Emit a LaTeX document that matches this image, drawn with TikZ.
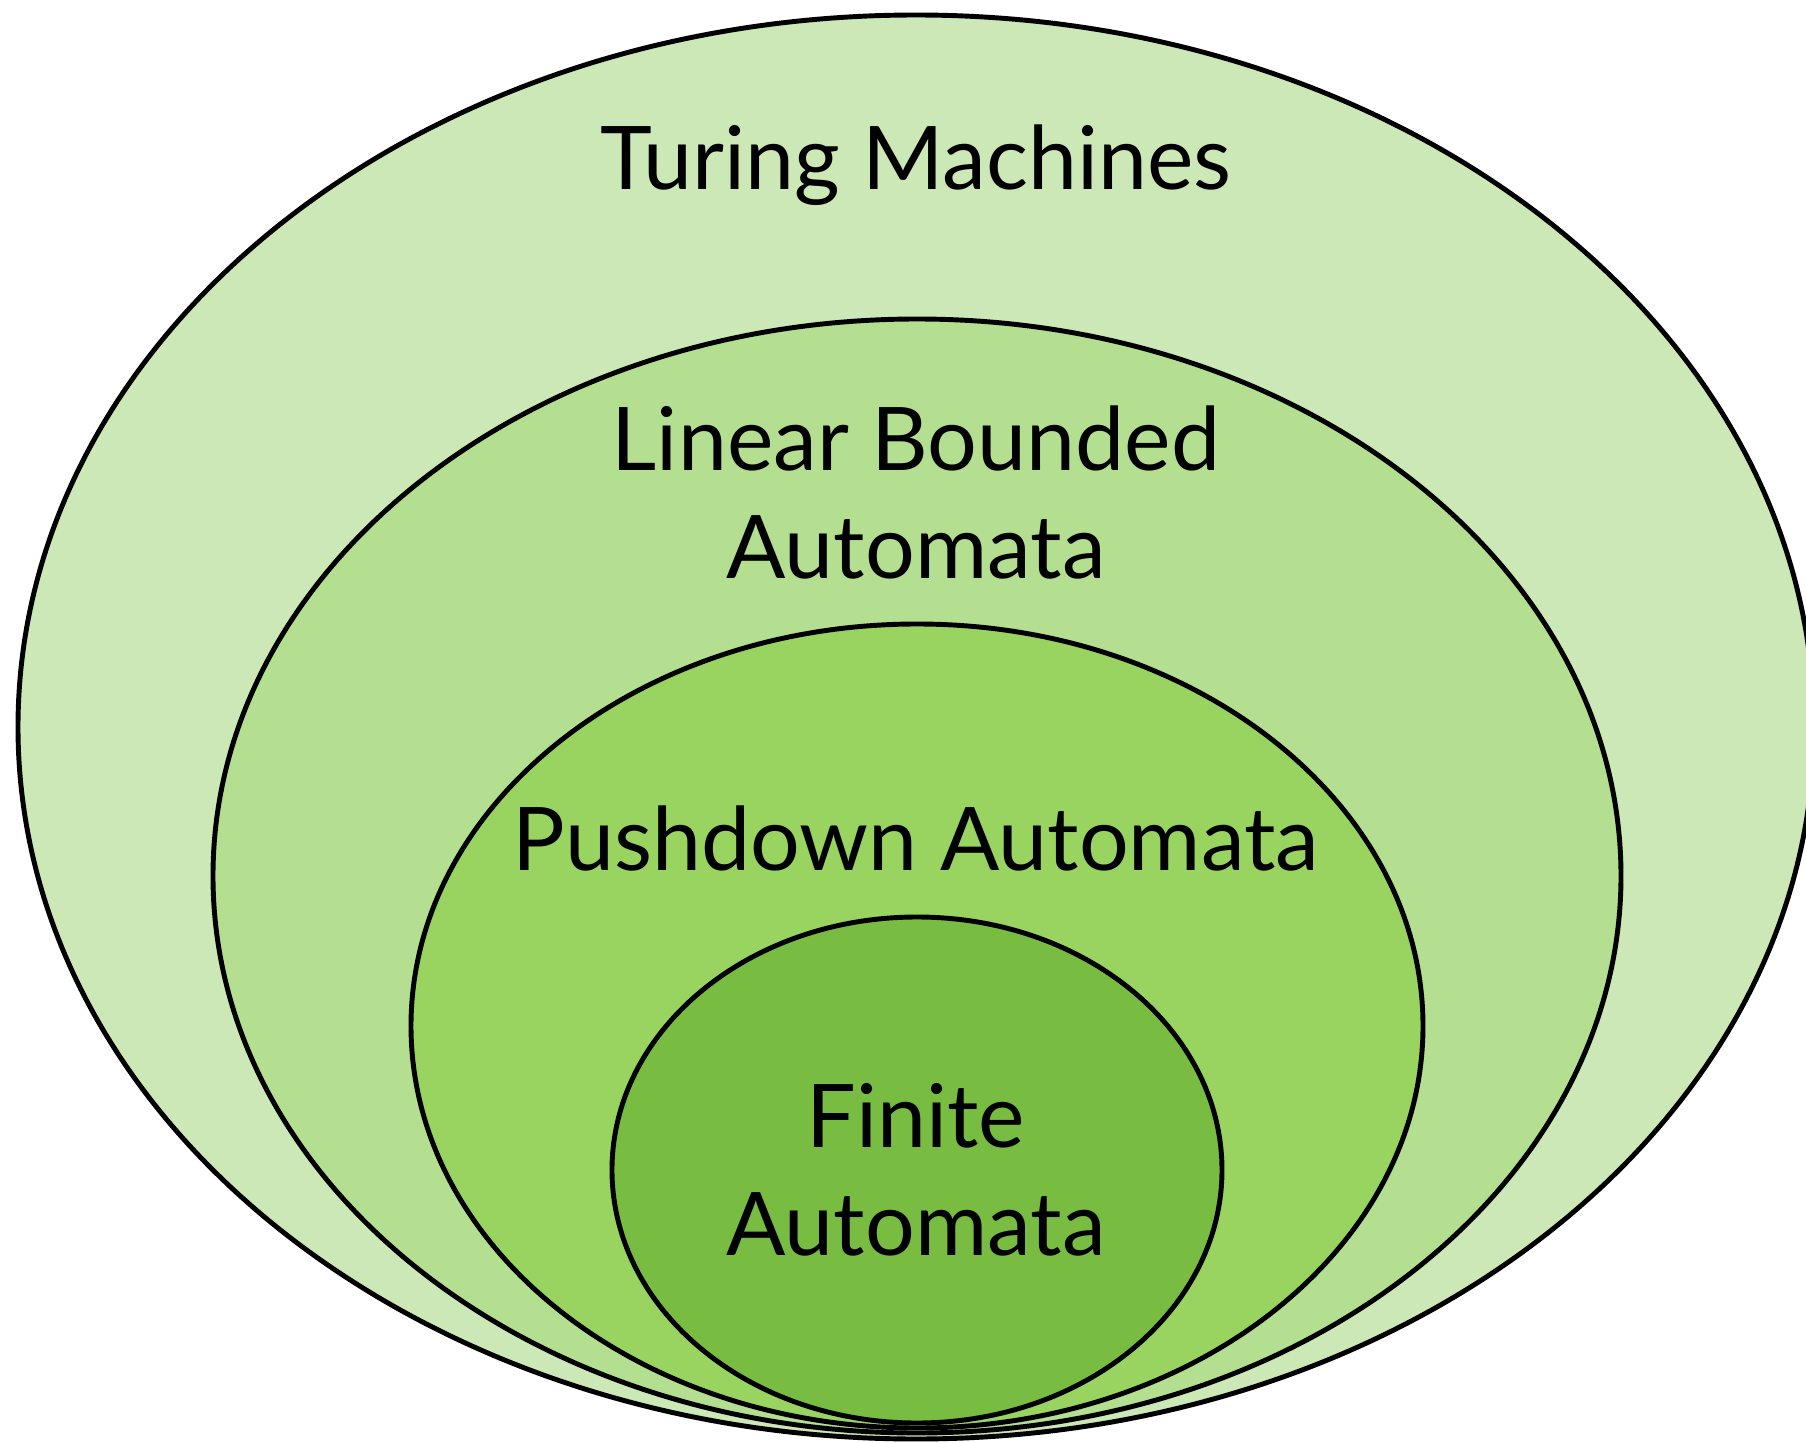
\documentclass[tikz,border=0pt]{standalone}
\usepackage{fontspec}
\setmainfont{Lato}
\usetikzlibrary{positioning}

\definecolor{tmgreen}{RGB}{205,232,183}
\definecolor{lbagreen}{RGB}{180,222,144}
\definecolor{pdagreen}{RGB}{153,212,96}
\definecolor{fagreen}{RGB}{120,188,65}

\tikzset{
  classset/.style = {draw=black, line width=2.8pt},
  classname/.style = {align=center, anchor=base, inner sep=0pt,
    font=\fontsize{50}{61}\selectfont}
}

\begin{document}
\begin{tikzpicture}[x=0.02cm, y=-0.02cm]
   \useasboundingbox (0,0) rectangle (1806,1443);
   \clip (0,0) rectangle (1806,1443);

   % nested language classes, outermost first
   \filldraw[classset, fill=tmgreen]  (916,727)  ellipse [x radius=898, y radius=712];
   \filldraw[classset, fill=lbagreen] (917,876)  ellipse [x radius=704, y radius=557];
   \filldraw[classset, fill=pdagreen] (917,1026) ellipse [x radius=506, y radius=402];
   \filldraw[classset, fill=fagreen]  (917,1170) ellipse [x radius=305, y radius=253];

   % base of a two-line label is its last line
   \node[classname] (tm)  at (916,190)  {Turing Machines};
   \node[classname] (lba) at (916,578)  {Linear Bounded\\Automata};
   \node[classname] (pda) at (916,870)  {Pushdown Automata};
   \node[classname] (fa)  at (916,1255) {Finite\\Automata};

\end{tikzpicture}
\end{document}
